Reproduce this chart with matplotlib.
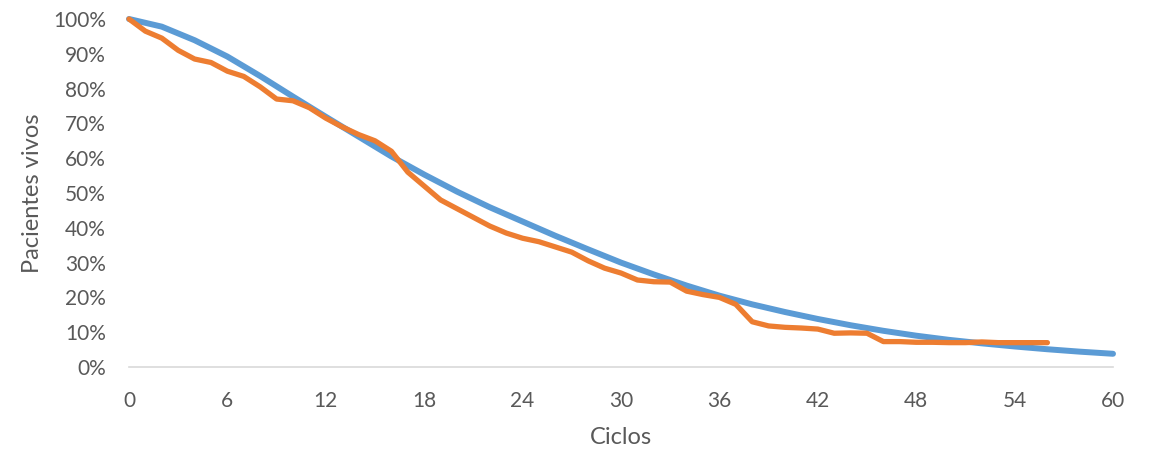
import matplotlib
matplotlib.use("Agg")
import matplotlib.pyplot as plt
from matplotlib.ticker import PercentFormatter

plt.rcParams['font.family'] = ['Lato', 'DejaVu Sans']

# Modelled survival curve (blue), read every 2 cycles
model_cycles = list(range(0, 61, 2))
model_alive = [100, 97.8, 93.9, 89.2, 83.6, 77.7, 71.9, 66.2, 60.5, 55.3, 50.4,
               45.9, 41.8, 37.7, 33.8, 30.0, 26.6, 23.4, 20.5, 18.0, 15.8,
               13.8, 12.0, 10.4, 9.0, 7.8, 6.8, 5.9, 5.1, 4.4, 3.8]

# Observed survival (orange), one value per cycle 0..56
obs_cycles = list(range(0, 57))
obs_alive = [100, 96.5, 94.5, 91, 88.5, 87.5, 85, 83.5, 80.5, 77, 76.5,
             74.5, 71.5, 69, 66.8, 65, 62, 56, 52, 48, 45.5,
             43, 40.5, 38.5, 37, 36, 34.5, 33, 30.5, 28.4, 27,
             25, 24.5, 24.4, 21.8, 20.8, 20, 18, 13, 11.8, 11.4,
             11.2, 10.9, 9.7, 9.8, 9.7, 7.3, 7.3, 7.1, 7.1, 7.0,
             7.0, 7.2, 7.0, 7.0, 7.0, 7.0]

x_ticks = list(range(0, 61, 6))
y_ticks = [v / 100 for v in range(0, 101, 10)]

fig = plt.figure(figsize=(11.51, 4.5), dpi=100)
ax = fig.add_axes([129/1151, 83/450, 984/1151, 348/450])

ax.plot(model_cycles, [v / 100 for v in model_alive], color='#5B9BD5', lw=4.3,
        solid_capstyle='round', solid_joinstyle='round', clip_on=False, zorder=2)
ax.plot(obs_cycles, [v / 100 for v in obs_alive], color='#ED7D31', lw=3.8,
        solid_capstyle='round', solid_joinstyle='round', clip_on=False, zorder=3)

ax.set_xlim(0, 60)
ax.set_ylim(0, 1)
ax.set_xticks(x_ticks)
ax.set_yticks(y_ticks)
ax.yaxis.set_major_formatter(PercentFormatter(1.0, decimals=0))

for s in ['top', 'right', 'left']:
    ax.spines[s].set_visible(False)
ax.spines['bottom'].set_color('#D9D9D9')
ax.spines['bottom'].set_linewidth(1.2)
ax.tick_params(axis='both', length=0, labelsize=15, colors='#595959')
ax.tick_params(axis='x', pad=17)
ax.tick_params(axis='y', pad=16.5)

ax.set_xlabel('Ciclos', fontsize=17, color='#595959', labelpad=12)
ax.set_ylabel('Pacientes vivos', fontsize=17, color='#595959', labelpad=7)

fig.savefig('out.png', dpi=100)
